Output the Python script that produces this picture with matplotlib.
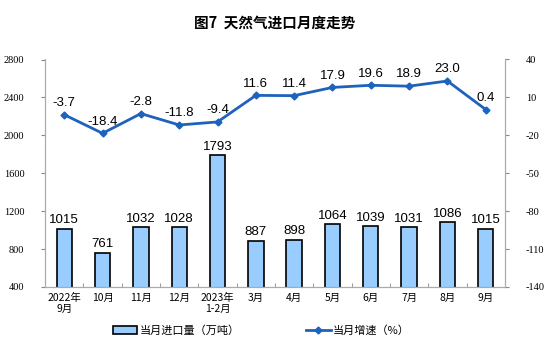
import matplotlib.pyplot as plt
import numpy as np

plt.rcParams['font.family'] = ['Noto Sans CJK SC', 'DejaVu Sans']
plt.rcParams['axes.unicode_minus'] = False

months = ['2022年\n9月', '10月', '11月', '12月', '2023年\n1-2月', '3月', '4月',
          '5月', '6月', '7月', '8月', '9月']
imports = [1015, 761, 1032, 1028, 1793, 887, 898, 1064, 1039, 1031, 1086, 1015]
growth = [-3.7, -18.4, -2.8, -11.8, -9.4, 11.6, 11.4, 17.9, 19.6, 18.9, 23.0, 0.4]
left_ticks = [400, 800, 1200, 1600, 2000, 2400, 2800]
right_ticks = [-140, -110, -80, -50, -20, 10, 40]

x = np.arange(len(months))

fig = plt.figure(figsize=(5.5, 3.5), dpi=100)
ax = fig.add_axes([0.082, 0.18, 0.836, 0.65])
ax2 = ax.twinx()

bars = ax.bar(x, imports, width=0.4, color='#99CCFF', edgecolor='black',
              linewidth=1.2, label='当月进口量（万吨）', zorder=2)
for xi, v in zip(x, imports):
    ax.text(xi, v + 25, str(v), ha='center', va='bottom', fontsize=9.5,
            family=['Liberation Sans', 'DejaVu Sans'])

line, = ax2.plot(x, growth, color='#1F62BC', linewidth=2, marker='D',
                 markersize=3.5, label='当月增速（%）', zorder=3)
for xi, v in zip(x, growth):
    ax2.text(xi, v + 4.5, f'{v:.1f}', ha='center', va='bottom', fontsize=9.5,
             family=['Liberation Sans', 'DejaVu Sans'])

ax.set_xlim(-0.5, len(months) - 0.5)
ax.set_ylim(400, 2800)
ax.set_yticks(left_ticks)
ax2.set_ylim(-140, 40)
ax2.set_yticks(right_ticks)

ax.set_xticks(x)
ax.set_xticklabels(months, fontsize=7.5)
ax.set_xticks(np.arange(-0.5, len(months)), minor=True)
ax.tick_params(axis='x', which='major', length=0, pad=4)
ax.tick_params(axis='x', which='minor', length=3, direction='in', color='#888888')

for lab in ax.get_yticklabels() + ax2.get_yticklabels():
    lab.set_family(['Liberation Serif', 'DejaVu Serif'])
    lab.set_fontsize(7.5)
ax.tick_params(axis='y', length=3, color='#888888', pad=12)
ax2.tick_params(axis='y', length=3, color='#888888', pad=12)

for a in (ax, ax2):
    a.spines['top'].set_visible(False)
    for s in ('left', 'right', 'bottom'):
        a.spines[s].set_color('#AAAAAA')

fig.text(0.5, 0.935, '图7  天然气进口月度走势', ha='center', va='center',
         fontsize=10.5, fontweight='bold')

fig.legend([bars, line], ['当月进口量（万吨）', '当月增速（%）'],
           loc='center', bbox_to_anchor=(0.475, 0.055), ncol=2, frameon=False,
           fontsize=8, columnspacing=6, handlelength=2.2, handletextpad=0.2)

fig.savefig('out.png', dpi=100)
